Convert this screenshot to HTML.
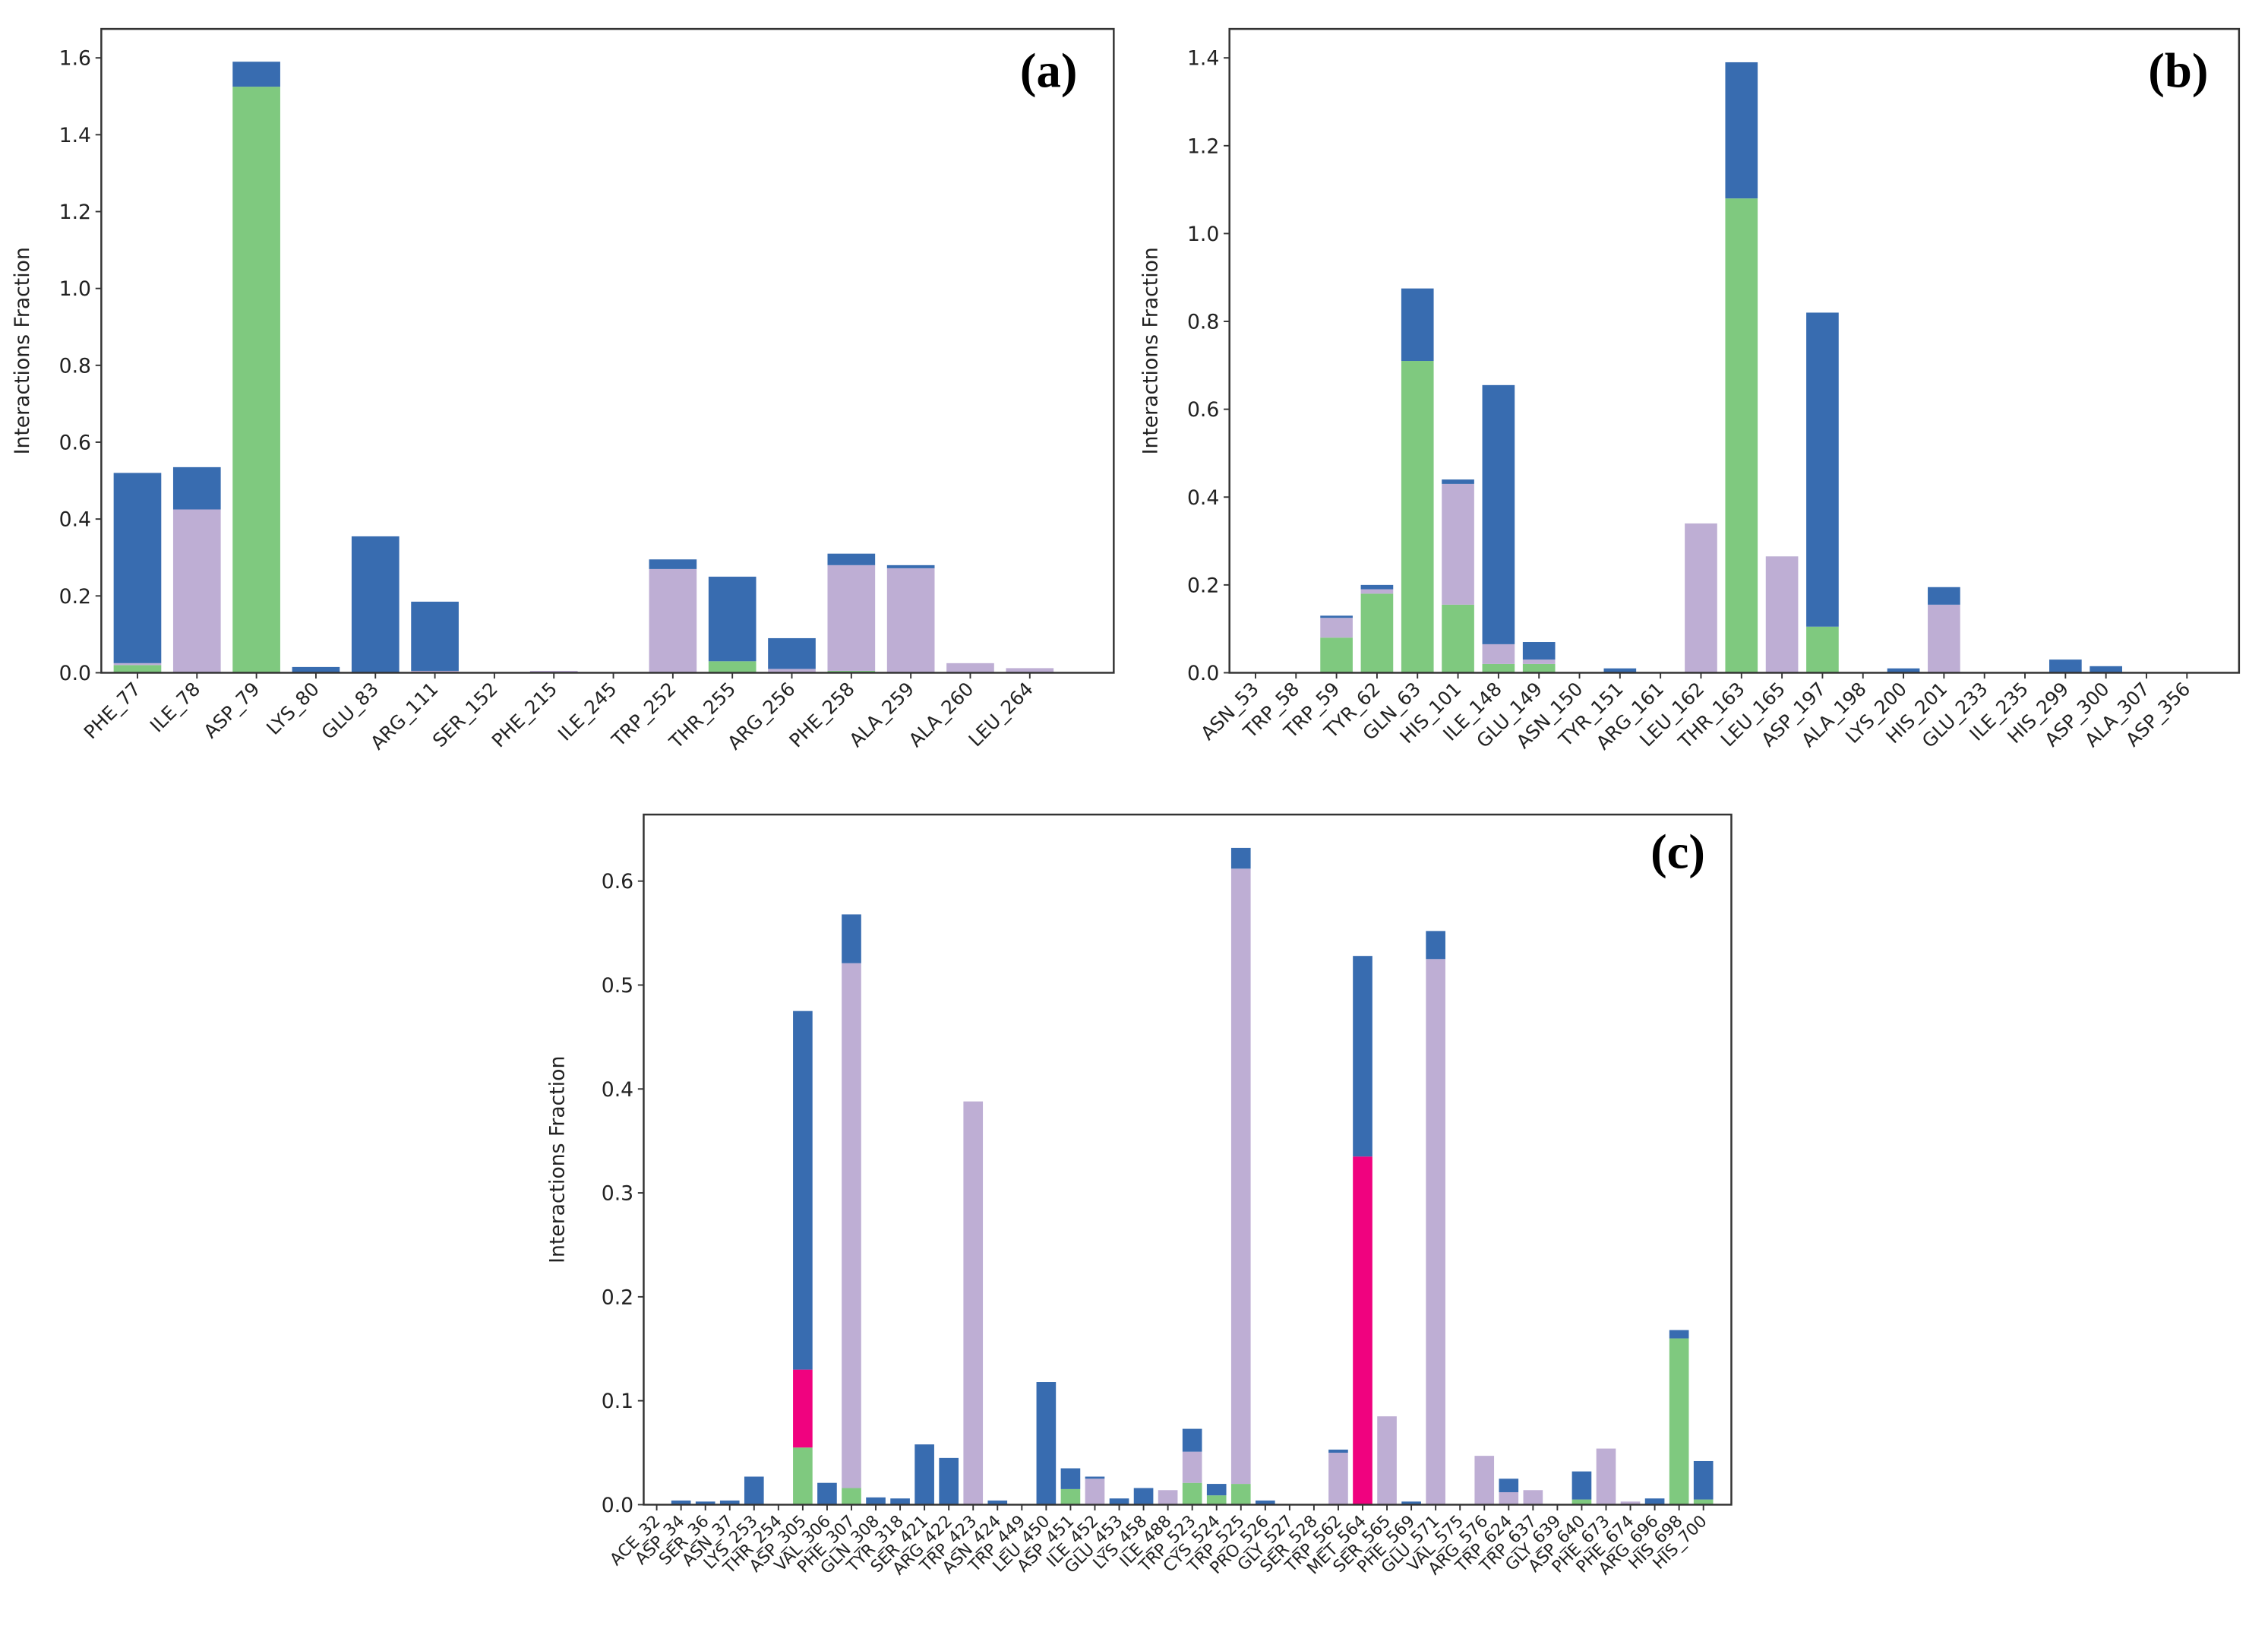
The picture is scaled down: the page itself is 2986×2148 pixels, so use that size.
<!DOCTYPE html>
<html><head><meta charset="utf-8"><style>
html,body{margin:0;padding:0;background:#fff;}
svg{display:block;font-family:"DejaVu Sans","Liberation Sans",sans-serif;}
</style></head><body>
<svg id="fig" xmlns="http://www.w3.org/2000/svg" width="2986" height="2148" viewBox="0 0 1568 1128"></svg>
<script>
// ---- Panel (a) data ----
const catsA = ["PHE_77","ILE_78","ASP_79","LYS_80","GLU_83","ARG_111","SER_152","PHE_215","ILE_245","TRP_252","THR_255","ARG_256","PHE_258","ALA_259","ALA_260","LEU_264"];
const greenA  = [0.02,0,1.525,0,0,0,0,0,0,0,0.03,0,0.005,0,0,0];
const purpleA = [0.005,0.425,0,0,0,0.005,0,0.005,0,0.27,0,0.01,0.275,0.272,0.025,0.012];
const pinkA   = [0,0,0,0,0,0,0,0,0,0,0,0,0,0,0,0];
const blueA   = [0.495,0.11,0.065,0.015,0.355,0.18,0,0,0,0.025,0.22,0.08,0.03,0.008,0,0];
const ticksA = [0,0.2,0.4,0.6,0.8,1.0,1.2,1.4,1.6];
const tickLabelsA = ["0.0","0.2","0.4","0.6","0.8","1.0","1.2","1.4","1.6"];
// ---- Panel (b) data ----
const catsB = ["ASN_53","TRP_58","TRP_59","TYR_62","GLN_63","HIS_101","ILE_148","GLU_149","ASN_150","TYR_151","ARG_161","LEU_162","THR_163","LEU_165","ASP_197","ALA_198","LYS_200","HIS_201","GLU_233","ILE_235","HIS_299","ASP_300","ALA_307","ASP_356"];
const greenB  = [0,0,0.08,0.18,0.71,0.155,0.02,0.02,0,0,0,0,1.08,0,0.105,0,0,0,0,0,0,0,0,0];
const purpleB = [0,0,0.045,0.01,0,0.275,0.045,0.01,0,0,0,0.34,0,0.265,0,0,0,0.155,0,0,0,0,0,0];
const pinkB   = [0,0,0,0,0,0,0,0,0,0,0,0,0,0,0,0,0,0,0,0,0,0,0,0];
const blueB   = [0,0,0.005,0.01,0.165,0.01,0.59,0.04,0,0.01,0,0,0.31,0,0.715,0,0.01,0.04,0,0,0.03,0.015,0,0];
const ticksB = [0,0.2,0.4,0.6,0.8,1.0,1.2,1.4];
const tickLabelsB = ["0.0","0.2","0.4","0.6","0.8","1.0","1.2","1.4"];
// ---- Panel (c) data ----
const catsC = ["ACE_32","ASP_34","SER_36","ASN_37","LYS_253","THR_254","ASP_305","VAL_306","PHE_307","GLN_308","TYR_318","SER_421","ARG_422","TRP_423","ASN_424","TRP_449","LEU_450","ASP_451","ILE_452","GLU_453","LYS_458","ILE_488","TRP_523","CYS_524","TRP_525","PRO_526","GLY_527","SER_528","TRP_562","MET_564","SER_565","PHE_569","GLU_571","VAL_575","ARG_576","TRP_624","TRP_637","GLY_639","ASP_640","PHE_673","PHE_674","ARG_696","HIS_698","HIS_700"];
const greenC  = [0,0,0,0,0,0,0.055,0,0.016,0,0,0,0,0,0,0,0,0.015,0,0,0,0,0.021,0.009,0.02,0,0,0,0,0,0,0,0,0,0,0,0,0,0.005,0,0,0,0.16,0.005];
const purpleC = [0,0,0,0,0,0,0,0,0.505,0,0,0,0,0.388,0,0,0,0,0.025,0,0,0.014,0.03,0,0.592,0,0,0,0.05,0,0.085,0,0.525,0,0.047,0.012,0.014,0,0,0.054,0.003,0,0,0];
const pinkC   = [0,0,0,0,0,0,0.075,0,0,0,0,0,0,0,0,0,0,0,0,0,0,0,0,0,0,0,0,0,0,0.335,0,0,0,0,0,0,0,0,0,0,0,0,0,0];
const blueC   = [0,0.004,0.003,0.004,0.027,0,0.345,0.021,0.047,0.007,0.006,0.058,0.045,0,0.004,0,0.118,0.02,0.002,0.006,0.016,0,0.022,0.011,0.02,0.004,0,0,0.003,0.193,0,0.003,0.027,0,0,0.013,0,0,0.027,0,0,0.006,0.008,0.037];
const ticksC = [0,0.1,0.2,0.3,0.4,0.5,0.6];
const tickLabelsC = ["0.0","0.1","0.2","0.3","0.4","0.5","0.6"];

const NS = "http://www.w3.org/2000/svg";
const svg = document.getElementById('fig');
const COLORS = {green:"#7fc97f", purple:"#beaed4", pink:"#f0027f", blue:"#386cb0"};
function mk(tag, attrs, parent){
  const e = document.createElementNS(NS, tag);
  for (const k in attrs) e.setAttribute(k, attrs[k]);
  (parent||svg).appendChild(e);
  return e;
}

function panel(id, box, ymax, x0, dx, cats, series, ticks, tickLabels, fs, yLabelX, label, labelPos){
  const g = mk('g', {});
  
  
  const yS = v => box.y1 - v / ymax * (box.y1 - box.ytop);
  const xS = i => x0 + i * dx;
  const bw = dx * 0.8;
  // bars
  cats.forEach((c, i) => {
    let base = 0;
    series.forEach(s => {
      const v = s.vals[i];
      if (v > 0) {
        const r = mk('rect', {x: xS(i) - bw/2, y: yS(base + v), width: bw, height: yS(base) - yS(base + v), fill: COLORS[s.name]}, g);
        
        
      }
      base += v;
    });
  });
  // frame
  const fr = mk('rect', {x: box.x0, y: box.y0, width: box.x1 - box.x0, height: box.y1 - box.y0, fill: 'none', stroke: '#333', 'stroke-width': 1.3}, g);
  
  
  // y ticks
  ticks.forEach((t, k) => {
    const y = yS(t);
    mk('line', {x1: box.x0 - 4, x2: box.x0, y1: y, y2: y, stroke: '#333', 'stroke-width': 1}, g);
    const tx = mk('text', {x: box.x0 - 7, y: y + 5, 'text-anchor': 'end', 'font-size': 14, fill: '#222'}, g);
    
    
    tx.textContent = tickLabels[k];
  });
  // x ticks
  cats.forEach((c, i) => {
    const x = xS(i);
    mk('line', {x1: x, x2: x, y1: box.y1, y2: box.y1 + 4, stroke: '#333', 'stroke-width': 1}, g);
    const tx = mk('text', {x: x + 3, y: box.y1 + 12, 'text-anchor': 'end', 'font-size': fs, fill: '#222', transform: 'rotate(-45 ' + (x + 3) + ' ' + (box.y1 + 12) + ')'}, g);
    
    
    tx.textContent = c;
  });
  // y axis title
  const yc = (box.y0 + box.y1) / 2;
  const yt = mk('text', {x: yLabelX, y: yc, 'text-anchor': 'middle', 'font-size': 14, fill: '#222', transform: 'rotate(-90 ' + yLabelX + ' ' + yc + ')'}, g);
  
  
  yt.textContent = 'Interactions Fraction';
  // panel label
  const pl = mk('text', {x: labelPos[0], y: labelPos[1], 'text-anchor': 'middle', 'font-size': 34, 'font-weight': 'bold', 'font-family': '"Liberation Serif", serif', fill: '#000'}, g);
  
  
  pl.textContent = label;
}

panel('a', {x0:70, x1:770, y0:20, y1:465, ytop:40}, 1.6, 95, 41.13, catsA,
  [{name:'green', vals:greenA},{name:'purple', vals:purpleA},{name:'pink', vals:pinkA},{name:'blue', vals:blueA}],
  ticksA, tickLabelsA, 13, 20, '(a)', [725, 60]);
panel('b', {x0:850, x1:1548, y0:20, y1:465, ytop:40}, 1.4, 868, 28, catsB,
  [{name:'green', vals:greenB},{name:'purple', vals:purpleB},{name:'pink', vals:pinkB},{name:'blue', vals:blueB}],
  ticksB, tickLabelsB, 13, 800, '(b)', [1506, 60]);
panel('c', {x0:445, x1:1197, y0:563, y1:1040, ytop:609}, 0.6, 454, 16.83, catsC,
  [{name:'green', vals:greenC},{name:'purple', vals:purpleC},{name:'pink', vals:pinkC},{name:'blue', vals:blueC}],
  ticksC, tickLabelsC, 11.5, 390, '(c)', [1160, 600]);
</script>
</body></html>
